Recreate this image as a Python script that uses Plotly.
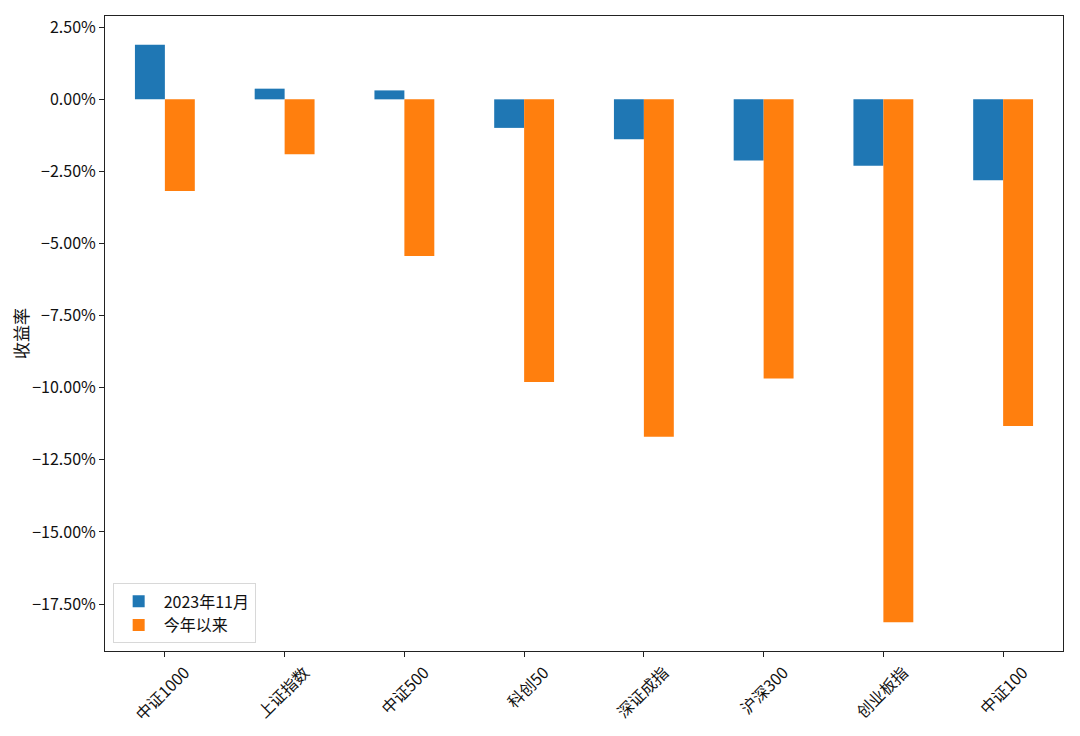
import plotly.graph_objects as go

categories = ["中证1000", "上证指数", "中证500", "科创50", "深证成指", "沪深300", "创业板指", "中证100"]
nov_2023 = [1.89, 0.37, 0.31, -0.99, -1.38, -2.12, -2.30, -2.81]
ytd = [-3.18, -1.90, -5.43, -9.80, -11.70, -9.68, -18.13, -11.33]
series_names = ["2023年11月", "今年以来"]
y_ticks = [2.5, 0, -2.5, -5, -7.5, -10, -12.5, -15, -17.5]
y_tick_text = [f"{v:.2f}%".replace("-", "\u2212") for v in y_ticks]

FONT = "Noto Sans CJK SC"

fig = go.Figure()
fig.add_trace(go.Bar(x=categories, y=nov_2023, name=series_names[0], marker_color="#1f77b4",
                     marker_line_width=0))
fig.add_trace(go.Bar(x=categories, y=ytd, name=series_names[1], marker_color="#ff7f0e",
                     marker_line_width=0))

fig.update_layout(
    width=1072, height=728,
    margin=dict(l=97, r=17, t=8, b=85, autoexpand=False),
    paper_bgcolor="white", plot_bgcolor="white",
    barmode="group", bargap=0.5, bargroupgap=0,
    font=dict(family=FONT, size=16, color="#111"),
    legend=dict(x=0.008, y=0.012, xanchor="left", yanchor="bottom",
                bordercolor="#d8d8d8", borderwidth=1, bgcolor="rgba(255,255,255,0.8)",
                font=dict(size=16, family=FONT), itemwidth=40,
                tracegroupgap=2),
    showlegend=True,
)
fig.update_xaxes(
    range=[-0.5, 7.5], showline=True, mirror=True, linecolor="#222", linewidth=1,
    ticks="outside", ticklen=5, tickcolor="#222", tickangle=-45, ticklabelshift=20,
    tickfont=dict(size=16, family=FONT), showgrid=False, automargin=False,
)
fig.update_yaxes(
    range=[-19.13, 2.89], showline=True, mirror=True, linecolor="#222", linewidth=1,
    ticks="outside", ticklen=5, tickcolor="#222", tickvals=y_ticks, ticktext=y_tick_text,
    tickfont=dict(size=16, family=FONT), automargin=False,
    showgrid=False, zeroline=False,
    title=dict(text="收益率", font=dict(size=17, family=FONT), standoff=0),
)

fig.write_html("out.html")
